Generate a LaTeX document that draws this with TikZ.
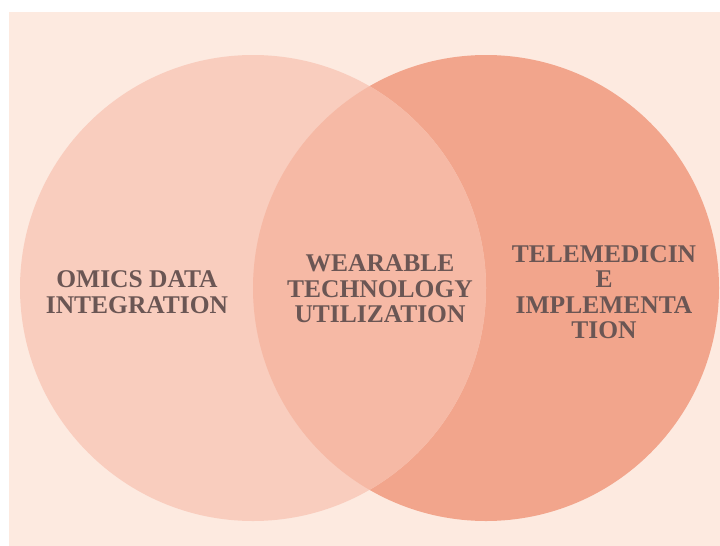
\documentclass[tikz,border=0pt]{standalone}
\usepackage{fontspec}
\setmainfont{Liberation Serif}
\definecolor{pagebg}{HTML}{FDEAE0}
\definecolor{leftfill}{HTML}{F9CDBE}
\definecolor{rightfill}{HTML}{F2A58C}
\definecolor{midfill}{HTML}{F6B9A5}
\definecolor{labelink}{HTML}{6B5654}
\begin{document}
\begin{tikzpicture}[x=1pt,y=-1pt,
  setlabel/.style={align=center, text=labelink, inner sep=0pt,
    font=\bfseries\fontsize{25.5}{25.5}\selectfont}]
  \useasboundingbox (0,0) rectangle (720,546);
  \fill[white] (0,0) rectangle (720,546);
  \fill[pagebg] (9,12) rectangle (720,546);
  % the two sets
  \fill[rightfill] (486,288) circle[radius=233];
  \fill[leftfill] (253,288) circle[radius=233];
  % their intersection
  \begin{scope}
    \clip (253,288) circle[radius=233];
    \fill[midfill] (486,288) circle[radius=233];
  \end{scope}
  % labels
  \node[setlabel] (omics) at (137,292) {OMICS DATA\\INTEGRATION};
  \node[setlabel] (wear) at (380,289) {WEARABLE\\TECHNOLOGY\\UTILIZATION};
  \node[setlabel] (tele) at (604,292) {TELEMEDICIN\\E\\IMPLEMENTA\\TION};
\end{tikzpicture}
\end{document}
